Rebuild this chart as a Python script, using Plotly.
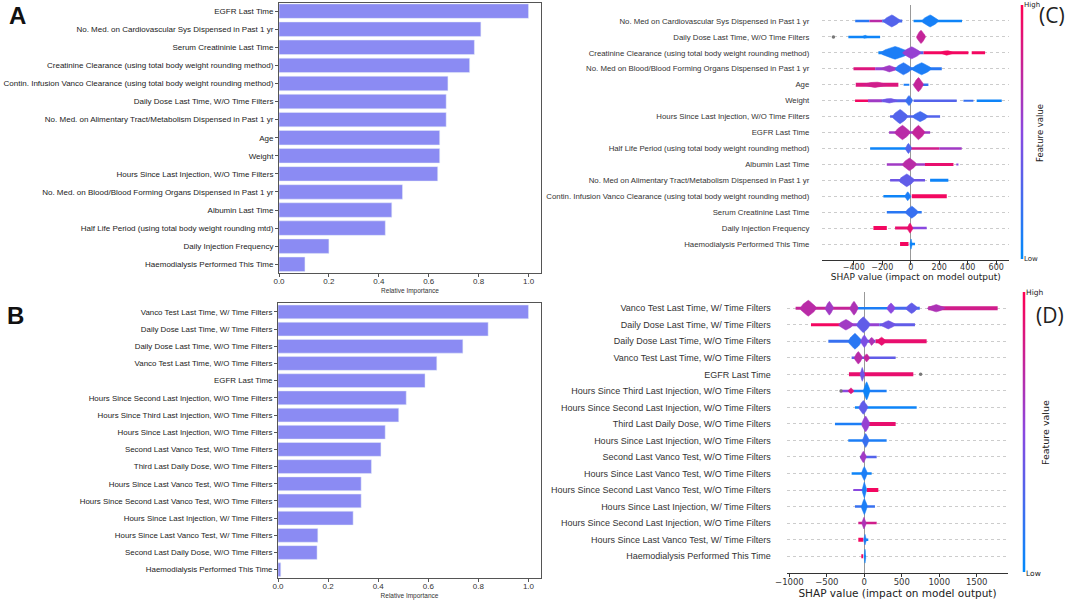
import plotly.graph_objects as go
from plotly.colors import sample_colorscale

# ---- panel A / B : relative importance bars ----
a_features = [
    "EGFR Last Time",
    "No. Med. on Cardiovascular Sys Dispensed in Past 1 yr",
    "Serum Creatininie Last Time",
    "Creatinine Clearance (using total body weight rounding method)",
    "Contin. Infusion Vanco Clearance (using total body weight rounding method)",
    "Daily Dose Last Time, W/O Time Filters",
    "No. Med. on Alimentary Tract/Metabolism Dispensed in Past 1 yr",
    "Age",
    "Weight",
    "Hours Since Last Injection, W/O Time Filters",
    "No. Med. on Blood/Blood Forming Organs Dispensed in Past 1 yr",
    "Albumin Last Time",
    "Half Life Period (using total body weight rounding mtd)",
    "Daily Injection Frequency",
    "Haemodialysis Performed This Time",
]
a_values = [1.0, 0.809, 0.783, 0.764, 0.677, 0.670, 0.670, 0.644, 0.644, 0.636,
            0.495, 0.452, 0.426, 0.200, 0.104]

b_features = [
    "Vanco Test Last Time, W/ Time Filters",
    "Daily Dose Last Time, W/ Time Filters",
    "Daily Dose Last Time, W/O Time Filters",
    "Vanco Test Last Time, W/O Time Filters",
    "EGFR Last Time",
    "Hours Since Second Last Injection, W/O Time Filters",
    "Hours Since Third Last Injection, W/O Time Filters",
    "Hours Since Last Injection, W/O Time Filters",
    "Second Last Vanco Test, W/O Time Filters",
    "Third Last Daily Dose, W/O Time Filters",
    "Hours Since Last Vanco Test, W/O Time Filters",
    "Hours Since Second Last Vanco Test, W/O Time Filters",
    "Hours Since Last Injection, W/ Time Filters",
    "Hours Since Last Vanco Test, W/ Time Filters",
    "Second Last Daily Dose, W/O Time Filters",
    "Haemodialysis Performed This Time",
]
b_values = [1.0, 0.839, 0.738, 0.634, 0.587, 0.512, 0.482, 0.428, 0.411, 0.373,
            0.332, 0.332, 0.300, 0.159, 0.156, 0.011]

c_features = [
    "No. Med on Cardiovascular Sys Dispensed in Past 1 yr",
    "Daily Dose Last Time, W/O Time Filters",
    "Creatinine Clearance (using total body weight rounding method)",
    "No. Med on Blood/Blood Forming Organs Dispensed in Past 1 yr",
    "Age",
    "Weight",
    "Hours Since Last Injection, W/O Time Filters",
    "EGFR Last Time",
    "Half Life Period (using total body weight rounding method)",
    "Albumin Last Time",
    "No. Med on Alimentary Tract/Metabolism Dispensed in Past 1 yr",
    "Contin. Infusion Vanco Clearance (using total body weight rounding method)",
    "Serum Creatinine Last Time",
    "Daily Injection Frequency",
    "Haemodialysis Performed This Time",
]
# streaks: (shap from, shap to, feature value 0..1, thickness)
c_streaks = [
    [(-390, -290, 0.15, 2.5), (-290, -200, 0.7, 2.5), (-200, -60, 0.25, 3), (20, 360, 0.05, 2.5)],
    [(-438, -215, 0.05, 2.5)],
    [(-227, -120, 0.05, 3), (-120, 90, 0.3, 3), (90, 405, 0.95, 3), (428, 522, 0.95, 3)],
    [(-402, -250, 0.85, 3), (-250, -100, 0.55, 3), (-100, 218, 0.15, 3)],
    [(-386, -87, 0.85, 4), (-50, -10, 0.1, 2), (20, 124, 0.2, 2.5)],
    [(-391, -300, 0.95, 2.5), (-300, -200, 0.6, 3), (-200, -20, 0.3, 3), (20, 323, 0.3, 2.5),
     (370, 440, 0.2, 2), (463, 639, 0.05, 2.5)],
    [(-145, 206, 0.3, 2.5)],
    [(-152, 136, 0.6, 2.5)],
    [(-285, -30, 0.05, 2.5), (0, 200, 0.8, 2.5), (200, 358, 0.6, 2.5)],
    [(-168, 100, 0.6, 2.5), (100, 300, 0.9, 3), (320, 335, 0.5, 2)],
    [(-145, 100, 0.4, 2.5), (136, 264, 0.05, 3)],
    [(-192, -10, 0.05, 2.5), (7, 253, 0.95, 4)],
    [(-168, 77, 0.15, 2.5)],
    [(-262, -168, 0.95, 4), (-110, -16, 0.9, 3), (7, 112, 0.5, 2.5)],
    [(-75, -16, 0.95, 4), (0, 30, 0.05, 2.5)],
]
# clumps: (shap centre, half width, half height in rows, feature value)
c_blobs = [
    [(-133, 60, 0.38, 0.3), (136, 60, 0.38, 0.08)],
    [(-320, 25, 0.1, 0.05), (72, 32, 0.42, 0.75)],
    [(-110, 105, 0.4, 0.1), (7, 65, 0.38, 0.55), (253, 50, 0.15, 0.95)],
    [(-150, 60, 0.2, 0.6), (-51, 60, 0.38, 0.15), (77, 70, 0.38, 0.1)],
    [(-250, 90, 0.18, 0.8), (54, 35, 0.45, 0.75)],
    [(-150, 60, 0.15, 0.4), (-12, 25, 0.32, 0.2)],
    [(-75, 55, 0.45, 0.3), (66, 55, 0.32, 0.25)],
    [(-58, 55, 0.45, 0.7), (54, 45, 0.45, 0.75)],
    [(-16, 22, 0.32, 0.3)],
    [(-9, 50, 0.4, 0.7)],
    [(-28, 55, 0.4, 0.35)],
    [(-21, 22, 0.28, 0.1)],
    [(7, 45, 0.38, 0.2)],
    [(-5, 20, 0.32, 0.9)],
    [(2, 8, 0.32, 0.05)],
]
c_grey_dots = [(-543, 1)]  # (shap, feature index)

d_features = [
    "Vanco Test Last Time, W/ Time Filters",
    "Daily Dose Last Time, W/ Time Filters",
    "Daily Dose Last Time, W/O Time Filters",
    "Vanco Test Last Time, W/O Time Filters",
    "EGFR Last Time",
    "Hours Since Third Last Injection, W/O Time Filters",
    "Hours Since Second Last Injection, W/O Time Filters",
    "Third Last Daily Dose, W/O Time Filters",
    "Hours Since Last Injection, W/O Time Filters",
    "Second Last Vanco Test, W/O Time Filters",
    "Hours Since Last Vanco Test, W/O Time Filters",
    "Hours Since Second Last Vanco Test, W/O Time Filters",
    "Hours Since Last Injection, W/ Time Filters",
    "Hours Since Second Last Injection, W/O Time Filters",
    "Hours Since Last Vanco Test, W/ Time Filters",
    "Haemodialysis Performed This Time",
]
d_streaks = [
    [(-917, -100, 0.75, 3), (-100, 330, 0.1, 2.5), (330, 740, 0.25, 3), (854, 1780, 0.8, 4)],
    [(-712, -300, 0.95, 3), (-300, 200, 0.55, 3), (200, 676, 0.35, 3)],
    [(-480, -200, 0.2, 3), (-200, 150, 0.3, 3), (150, 832, 0.9, 4)],
    [(-169, 418, 0.35, 2.5)],
    [(-205, 654, 0.9, 4)],
    [(-325, -150, 0.5, 2.5), (-150, 298, 0.1, 2.5)],
    [(-125, 699, 0.05, 2.5)],
    [(-392, 0, 0.1, 2.5), (0, 418, 0.9, 4)],
    [(-214, 298, 0.1, 2.5)],
    [(-58, 165, 0.3, 2.5)],
    [(-169, 98, 0.05, 2.5)],
    [(-147, 0, 0.5, 2), (31, 187, 0.95, 4)],
    [(-125, 142, 0.2, 2.5)],
    [(-80, 165, 0.8, 2.5)],
    [(-80, -13, 0.95, 4), (0, 53, 0.05, 2.5)],
    [(-40, -15, 0.95, 4), (0, 20, 0.05, 2)],
]
d_blobs = [
    [(-748, 110, 0.48, 0.7), (-467, 55, 0.42, 0.6), (-138, 55, 0.42, 0.65), (356, 55, 0.32, 0.5),
     (632, 80, 0.32, 0.35), (960, 120, 0.22, 0.65)],
    [(-245, 100, 0.32, 0.6), (-13, 90, 0.48, 0.35), (320, 100, 0.25, 0.4)],
    [(-125, 90, 0.48, 0.15), (0, 50, 0.38, 0.45), (98, 40, 0.25, 0.65), (231, 60, 0.25, 0.9)],
    [(-80, 55, 0.38, 0.7), (31, 40, 0.25, 0.75)],
    [(-27, 30, 0.42, 0.4)],
    [(-178, 40, 0.18, 0.85), (31, 45, 0.55, 0.05)],
    [(-13, 60, 0.42, 0.35)],
    [(18, 55, 0.48, 0.55)],
    [(18, 45, 0.42, 0.2)],
    [(-13, 40, 0.35, 0.6)],
    [(0, 40, 0.42, 0.1)],
    [(0, 30, 0.48, 0.1)],
    [(0, 40, 0.48, 0.1)],
    [(-5, 30, 0.35, 0.65)],
    [(9, 18, 0.32, 0.1)],
    [(9, 12, 0.42, 0.05)],
]
d_grey_dots = [(752, 4), (-310, 5)]

# colour key levels for the "Feature value" bars
key_levels = [k / 100 for k in range(101)]

SHAP_SCALE = [[0, "#008bfb"], [0.5, "#8a48e0"], [1, "#ff0052"]]
BAR_COLOR = "#8b8bf3"
SANS = "Liberation Sans, Arial, sans-serif"


def fv_color(v):
    return sample_colorscale(SHAP_SCALE, [v])[0]


fig = go.Figure()

fig.add_trace(go.Bar(x=a_values, y=a_features, orientation="h", width=0.8,
                     marker_color=BAR_COLOR, xaxis="x", yaxis="y", showlegend=False))
fig.add_trace(go.Bar(x=b_values, y=b_features, orientation="h", width=0.8,
                     marker_color=BAR_COLOR, xaxis="x2", yaxis="y2", showlegend=False))


def add_swarm(features, streaks, blobs, greys, xa, ya):
    n = len(features)
    for i in range(n):
        row = n - 1 - i
        for x0, x1, v, w in streaks[i]:
            fig.add_trace(go.Scatter(x=[x0, x1], y=[row, row], mode="lines",
                                     line=dict(color=fv_color(v), width=w),
                                     xaxis=xa, yaxis=ya, showlegend=False, hoverinfo="skip"))
    for i in range(n):
        row = n - 1 - i
        for xc, hw, hh, v in blobs[i]:
            ts = [k / 6 - 1 for k in range(13)]
            xs = [xc + hw * t for t in ts] + [xc + hw * t for t in reversed(ts)]
            ys = [row + hh * (1 - abs(t)) ** 0.7 for t in ts] + \
                 [row - hh * (1 - abs(t)) ** 0.7 for t in reversed(ts)]
            c = fv_color(v)
            fig.add_trace(go.Scatter(x=xs, y=ys, mode="lines", fill="toself", fillcolor=c,
                                     line=dict(color=c, width=0.5),
                                     xaxis=xa, yaxis=ya, showlegend=False, hoverinfo="skip"))
    fig.add_trace(go.Scatter(x=[g[0] for g in greys], y=[n - 1 - g[1] for g in greys],
                             mode="markers", marker=dict(color="#777777", size=3.5),
                             xaxis=xa, yaxis=ya, showlegend=False, hoverinfo="skip"))


add_swarm(c_features, c_streaks, c_blobs, c_grey_dots, "x3", "y3")
add_swarm(d_features, d_streaks, d_blobs, d_grey_dots, "x4", "y4")

for xa, ya in [("x5", "y5"), ("x6", "y6")]:
    fig.add_trace(go.Heatmap(z=[[v] for v in key_levels], y=key_levels, x=[0],
                             colorscale=SHAP_SCALE, zmin=0, zmax=1, showscale=False,
                             xaxis=xa, yaxis=ya, hoverinfo="skip"))

W, H = 1065, 602


def px(x):
    return x / W


def py(y):
    return 1 - y / H


bar_x = dict(range=[0, 1.05], tickvals=[0, 0.2, 0.4, 0.6, 0.8, 1.0], tickformat=".1f",
             showline=True, mirror=True, linecolor="#555", linewidth=1, ticks="outside",
             ticklen=3, tickcolor="#555", showgrid=False, zeroline=False, automargin=False,
             ticklabelstandoff=-3,
             tickfont=dict(family=SANS, size=8, color="#333"),
             title=dict(text="Relative Importance", font=dict(family=SANS, size=6.5, color="#333"),
                        standoff=3))
bar_y = dict(showline=True, mirror=True, linecolor="#555", linewidth=1, ticks="outside",
             ticklen=3, tickcolor="#555", showgrid=False, automargin=False,
             tickfont=dict(family=SANS, size=8, color="#222"))

swarm_x = dict(showline=True, linecolor="#333", linewidth=1, ticks="outside", ticklen=3.5,
               tickcolor="#333", showgrid=False, zeroline=True, zerolinecolor="#999999",
               zerolinewidth=1, automargin=False)
swarm_y = dict(showline=False, ticks="", showgrid=True, gridcolor="#cccccc", gridwidth=0.6,
               griddash="dot", zeroline=False, automargin=False)
key_ax = dict(visible=False, automargin=False, fixedrange=True)

fig.update_layout(
    width=W, height=H, margin=dict(l=0, r=0, t=0, b=0, autoexpand=False),
    paper_bgcolor="white", plot_bgcolor="white", bargap=0.2,
    xaxis=dict(bar_x, domain=[px(279), px(541)], anchor="y"),
    yaxis=dict(bar_y, domain=[py(273.3), py(3)], anchor="x", range=[14.5, -0.45]),
    xaxis2=dict(bar_x, domain=[px(278), px(541)], anchor="y2"),
    yaxis2=dict(bar_y, domain=[py(578.3), py(303.3)], anchor="x2", range=[15.5, -0.5],
                tickfont=dict(family=SANS, size=7.9, color="#222")),
    xaxis3=dict(swarm_x, domain=[px(822.3), px(1009.3)], anchor="y3", range=[-621, 692],
                tickvals=[-400, -200, 0, 200, 400, 600], ticklabelstandoff=-4,
                tickfont=dict(family="DejaVu Sans", size=8, color="#333"),
                title=dict(text="SHAP value (impact on model output)", standoff=1,
                           font=dict(family="DejaVu Sans", size=9, color="#222"))),
    yaxis3=dict(swarm_y, domain=[py(260), py(5)], anchor="x3", range=[-1, len(c_features)],
                tickvals=list(range(len(c_features) - 1, -1, -1)), ticktext=c_features,
                ticklabelstandoff=12,
                tickfont=dict(family=SANS, size=7.8, color="#333")),
    xaxis4=dict(swarm_x, domain=[px(786.7), px(1008.3)], anchor="y4", range=[-1036, 1922],
                tickvals=[-1000, -500, 0, 500, 1000, 1500], ticklabelstandoff=-2,
                tickfont=dict(family="DejaVu Sans", size=8.5, color="#333"),
                title=dict(text="SHAP value (impact on model output)", standoff=0,
                           font=dict(family="DejaVu Sans", size=10.5, color="#222"))),
    yaxis4=dict(swarm_y, domain=[py(572.7), py(291.7)], anchor="x4", range=[-1, len(d_features)],
                tickvals=list(range(len(d_features) - 1, -1, -1)), ticktext=d_features,
                ticklabelstandoff=15,
                tickfont=dict(family=SANS, size=9, color="#333")),
    xaxis5=dict(key_ax, domain=[px(1020.5), px(1023.5)], anchor="y5"),
    yaxis5=dict(key_ax, domain=[py(259), py(5)], anchor="x5", range=[0, 1]),
    xaxis6=dict(key_ax, domain=[px(1022.5), px(1025.5)], anchor="y6"),
    yaxis6=dict(key_ax, domain=[py(572), py(292)], anchor="x6", range=[0, 1]),
)

notes = [
    ("A", 17, 16, 24, "Liberation Sans", True, 0),
    ("B", 15, 315.5, 24, "Liberation Sans", True, 0),
    ("(C)", 1052, 15, 21, "Open Sans", False, 0),
    ("(D)", 1050, 315, 21, "Open Sans", False, 0),
    ("High", 1032, 5, 7, "DejaVu Sans", False, 0),
    ("Low", 1031, 259, 7, "DejaVu Sans", False, 0),
    ("High", 1034, 292, 7.5, "DejaVu Sans", False, 0),
    ("Low", 1033, 573, 7.5, "DejaVu Sans", False, 0),
    ("Feature value", 1040, 133, 8.5, "DejaVu Sans", False, -90),
    ("Feature value", 1045, 433, 9.5, "DejaVu Sans", False, -90),
]
for text, x, y, size, fam, bold, ang in notes:
    fig.add_annotation(text=f"<b>{text}</b>" if bold else text, x=px(x), y=py(y),
                       xref="paper", yref="paper", showarrow=False, textangle=ang,
                       xanchor="center", yanchor="middle",
                       font=dict(family=fam, size=size, color="#111" if bold else "#222"))

fig.write_html("out.html", config={"displayModeBar": False},
               post_script="document.body.style.margin='0px';")
